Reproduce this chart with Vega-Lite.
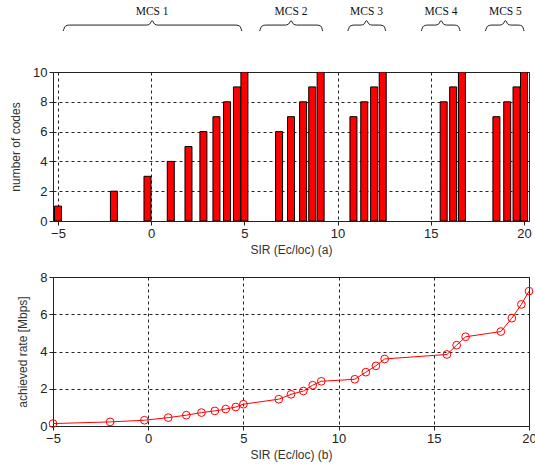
{
  "$schema": "https://vega.github.io/schema/vega-lite/v6.json",
  "padding": {"left": 9, "top": 5, "right": 1, "bottom": 5},
  "background": "white",
  "config": {
    "font": "Liberation Sans",
    "view": {"stroke": "#222", "strokeWidth": 1},
    "axis": {
      "labelFont": "Liberation Sans",
      "labelFontSize": 13,
      "labelColor": "#222",
      "labelOverlap": false,
      "labelBound": false,
      "labelFlush": false,
      "titleFont": "Liberation Sans",
      "titleFontSize": 12,
      "titleFontWeight": "normal",
      "titleColor": "#333",
      "domain": false,
      "tickColor": "#222",
      "tickSize": 4,
      "gridColor": "#222",
      "gridDash": [3, 3],
      "gridOpacity": 1,
      "gridWidth": 1
    }
  },
  "spacing": 14,
  "datasets": {
    "bars": [
      {"sir": -5, "codes": 1},
      {"sir": -2, "codes": 2},
      {"sir": -0.2, "codes": 3},
      {"sir": 1.05, "codes": 4},
      {"sir": 2.0, "codes": 5},
      {"sir": 2.8, "codes": 6},
      {"sir": 3.5, "codes": 7},
      {"sir": 4.07, "codes": 8},
      {"sir": 4.6, "codes": 9},
      {"sir": 5.0, "codes": 10},
      {"sir": 6.86, "codes": 6},
      {"sir": 7.5, "codes": 7},
      {"sir": 8.15, "codes": 8},
      {"sir": 8.64, "codes": 9},
      {"sir": 9.09, "codes": 10},
      {"sir": 10.85, "codes": 7},
      {"sir": 11.43, "codes": 8},
      {"sir": 11.96, "codes": 9},
      {"sir": 12.42, "codes": 10},
      {"sir": 15.69, "codes": 8},
      {"sir": 16.2, "codes": 9},
      {"sir": 16.67, "codes": 10},
      {"sir": 18.52, "codes": 7},
      {"sir": 19.1, "codes": 8},
      {"sir": 19.6, "codes": 9},
      {"sir": 20.0, "codes": 10}
    ],
    "rate": [
      {"sir": -5, "rate": 0.13},
      {"sir": -2, "rate": 0.22},
      {"sir": -0.2, "rate": 0.31},
      {"sir": 1.05, "rate": 0.45},
      {"sir": 2.0, "rate": 0.58},
      {"sir": 2.8, "rate": 0.72},
      {"sir": 3.5, "rate": 0.81},
      {"sir": 4.07, "rate": 0.91},
      {"sir": 4.6, "rate": 1.02},
      {"sir": 5.0, "rate": 1.17},
      {"sir": 6.86, "rate": 1.44},
      {"sir": 7.5, "rate": 1.7},
      {"sir": 8.15, "rate": 1.88},
      {"sir": 8.64, "rate": 2.19},
      {"sir": 9.09, "rate": 2.4},
      {"sir": 10.85, "rate": 2.51},
      {"sir": 11.43, "rate": 2.89},
      {"sir": 11.96, "rate": 3.23},
      {"sir": 12.42, "rate": 3.6},
      {"sir": 15.69, "rate": 3.84},
      {"sir": 16.2, "rate": 4.34},
      {"sir": 16.67, "rate": 4.79},
      {"sir": 18.52, "rate": 5.07},
      {"sir": 19.1, "rate": 5.79},
      {"sir": 19.6, "rate": 6.53},
      {"sir": 20.0, "rate": 7.24}
    ],
    "labels": [
      {"mcs": "MCS 1", "sir": 0.05, "codes": 14.05},
      {"mcs": "MCS 2", "sir": 7.5, "codes": 14.05},
      {"mcs": "MCS 3", "sir": 11.55, "codes": 14.05},
      {"mcs": "MCS 4", "sir": 15.55, "codes": 14.05},
      {"mcs": "MCS 5", "sir": 19.0, "codes": 14.05}
    ],
    "braces": [
      {"g": "1", "sir": -4.72, "codes": 12.75},
      {"g": "1", "sir": -4.6, "codes": 13.08},
      {"g": "1", "sir": -4.4, "codes": 13.15},
      {"g": "1", "sir": -0.25, "codes": 13.15},
      {"g": "1", "sir": -0.08, "codes": 13.22},
      {"g": "1", "sir": 0.05, "codes": 13.45},
      {"g": "1", "sir": 0.18, "codes": 13.22},
      {"g": "1", "sir": 0.35, "codes": 13.15},
      {"g": "1", "sir": 4.55, "codes": 13.15},
      {"g": "1", "sir": 4.75, "codes": 13.08},
      {"g": "1", "sir": 4.86, "codes": 12.75},
      {"g": "2", "sir": 5.82, "codes": 12.75},
      {"g": "2", "sir": 5.94, "codes": 13.08},
      {"g": "2", "sir": 6.14, "codes": 13.15},
      {"g": "2", "sir": 7.2, "codes": 13.15},
      {"g": "2", "sir": 7.37, "codes": 13.22},
      {"g": "2", "sir": 7.5, "codes": 13.45},
      {"g": "2", "sir": 7.63, "codes": 13.22},
      {"g": "2", "sir": 7.8, "codes": 13.15},
      {"g": "2", "sir": 8.9, "codes": 13.15},
      {"g": "2", "sir": 9.1, "codes": 13.08},
      {"g": "2", "sir": 9.2, "codes": 12.75},
      {"g": "3", "sir": 10.55, "codes": 12.75},
      {"g": "3", "sir": 10.67, "codes": 13.08},
      {"g": "3", "sir": 10.87, "codes": 13.15},
      {"g": "3", "sir": 11.25, "codes": 13.15},
      {"g": "3", "sir": 11.42, "codes": 13.22},
      {"g": "3", "sir": 11.55, "codes": 13.45},
      {"g": "3", "sir": 11.68, "codes": 13.22},
      {"g": "3", "sir": 11.85, "codes": 13.15},
      {"g": "3", "sir": 12.28, "codes": 13.15},
      {"g": "3", "sir": 12.48, "codes": 13.08},
      {"g": "3", "sir": 12.58, "codes": 12.75},
      {"g": "4", "sir": 14.49, "codes": 12.75},
      {"g": "4", "sir": 14.61, "codes": 13.08},
      {"g": "4", "sir": 14.81, "codes": 13.15},
      {"g": "4", "sir": 15.25, "codes": 13.15},
      {"g": "4", "sir": 15.42, "codes": 13.22},
      {"g": "4", "sir": 15.55, "codes": 13.45},
      {"g": "4", "sir": 15.68, "codes": 13.22},
      {"g": "4", "sir": 15.85, "codes": 13.15},
      {"g": "4", "sir": 16.27, "codes": 13.15},
      {"g": "4", "sir": 16.47, "codes": 13.08},
      {"g": "4", "sir": 16.57, "codes": 12.75},
      {"g": "5", "sir": 17.93, "codes": 12.75},
      {"g": "5", "sir": 18.05, "codes": 13.08},
      {"g": "5", "sir": 18.25, "codes": 13.15},
      {"g": "5", "sir": 18.7, "codes": 13.15},
      {"g": "5", "sir": 18.87, "codes": 13.22},
      {"g": "5", "sir": 19.0, "codes": 13.45},
      {"g": "5", "sir": 19.13, "codes": 13.22},
      {"g": "5", "sir": 19.3, "codes": 13.15},
      {"g": "5", "sir": 19.7, "codes": 13.15},
      {"g": "5", "sir": 19.9, "codes": 13.08},
      {"g": "5", "sir": 20.0, "codes": 12.75}
    ]
  },
  "vconcat": [
    {
      "width": 476,
      "height": 149,
      "encoding": {
        "x": {"field": "sir", "type": "quantitative",
          "scale": {"domain": [-5, 20], "nice": false, "zero": false},
          "axis": {"values": [-5, 0, 5, 10, 15, 20], "title": "SIR (Ec/loc) (a)", "grid": true, "labelPadding": 2, "titlePadding": 4}},
        "y": {"field": "codes", "type": "quantitative",
          "scale": {"domain": [0, 10], "nice": false, "zero": true},
          "axis": {"values": [0, 2, 4, 6, 8, 10], "title": "number of codes", "grid": true, "labelPadding": 2, "titlePadding": 10}}
      },
      "layer": [
        {
          "data": {"name": "bars"},
          "mark": {"type": "bar", "size": 7, "color": "#ff0000", "stroke": "#000", "strokeWidth": 1, "clip": true}
        },
        {
          "data": {"name": "braces"},
          "mark": {"type": "line", "color": "#222", "strokeWidth": 1, "interpolate": "monotone", "clip": false},
          "encoding": {"detail": {"field": "g"}}
        },
        {
          "data": {"name": "labels"},
          "mark": {"type": "text", "font": "Liberation Serif", "fontSize": 11.5, "color": "#111", "baseline": "middle", "align": "center", "clip": false},
          "encoding": {"text": {"field": "mcs"}}
        }
      ]
    },
    {
      "width": 476,
      "height": 149,
      "data": {"name": "rate"},
      "encoding": {
        "x": {"field": "sir", "type": "quantitative",
          "scale": {"domain": [-5, 20], "nice": false, "zero": false},
          "axis": {"values": [-5, 0, 5, 10, 15, 20], "title": "SIR (Ec/loc) (b)", "grid": true, "labelPadding": 2, "titlePadding": 4}},
        "y": {"field": "rate", "type": "quantitative",
          "scale": {"domain": [0, 8], "nice": false},
          "axis": {"values": [0, 2, 4, 6, 8], "title": "achieved rate [Mbps]", "grid": true, "labelPadding": 2, "titlePadding": 10}}
      },
      "layer": [
        {"mark": {"type": "line", "color": "#ff0000", "strokeWidth": 1}},
        {"mark": {"type": "point", "shape": "circle", "size": 60, "filled": false, "color": "#ff0000", "strokeWidth": 1, "opacity": 1}}
      ]
    }
  ]
}
